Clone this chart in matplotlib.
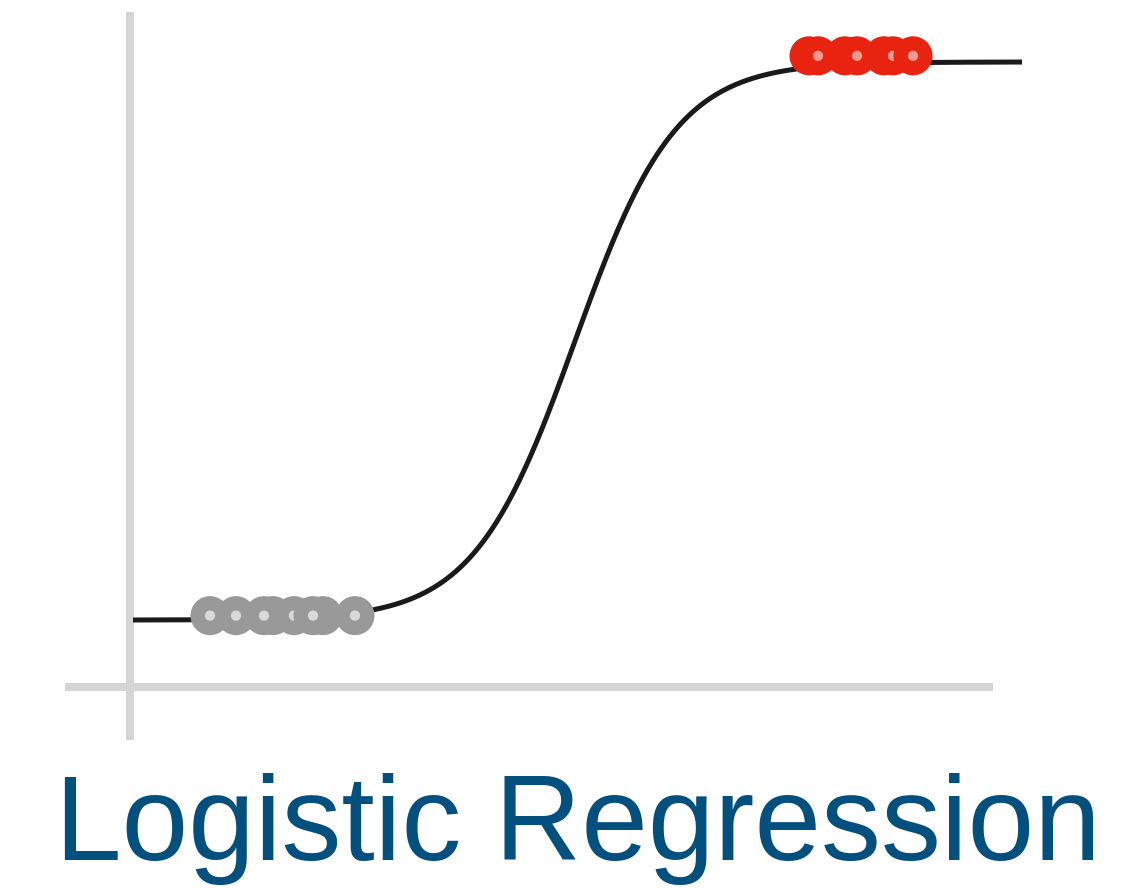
import numpy as np
import matplotlib
matplotlib.use("Agg")
import matplotlib.pyplot as plt

# Observations: feature values for each class (drawn in this order)
x_class0 = [0.80, 1.06, 1.43, 1.34, 1.64, 1.93, 1.83, 2.25]
x_class1 = [6.79, 6.88, 7.15, 7.27, 7.54, 7.63, 7.83]
y_class0 = 0.0
y_class1 = 1.0

# Fitted logistic curve parameters
slope = 1.97
midpoint = 4.45
curve_range = (0.03, 8.92)

title = "Logistic Regression"

W, H, DPI = 1147, 888, 100
fig = plt.figure(figsize=(W / DPI, H / DPI), dpi=DPI)
ax = fig.add_axes([0, 0, 1, 1])
ax.set_xlim(-1.30, 10.17)
ax.set_ylim(-0.480, 1.111)
ax.axis("off")

axis_color = "#d5d5d5"
# Axis guide lines
ax.plot([0, 0], [-0.215, 1.090], color=axis_color, lw=5.8,
        solid_capstyle="butt", zorder=1)
ax.plot([-0.65, 8.63], [-0.120, -0.120], color=axis_color, lw=5.8,
        solid_capstyle="butt", zorder=1)

# Sigmoid curve
xs = np.linspace(curve_range[0], curve_range[1], 600)
ys = 1.0 / (1.0 + np.exp(-slope * (xs - midpoint)))
ax.plot(xs, ys, color="#1a1a1a", lw=3.6, solid_capstyle="butt", zorder=2)

def draw_points(xv, yv, outer, inner, z0, lift):
    z = z0
    for x in xv:
        ax.scatter([x], [yv + lift], s=790, color=outer, edgecolors="none", zorder=z)
        ax.scatter([x], [yv + lift], s=55, color=inner, edgecolors="none", zorder=z + 0.5)
        z += 1

draw_points(x_class0, y_class0, "#999999", "#d9d9d9", 3, 0.008)
draw_points(x_class1, y_class1, "#e8230f", "#f59890", 20, 0.011)

fig.text(577.5 / W, 1 - 860 / H, title, ha="center", va="baseline",
         fontsize=86.2, color="#03507e", family="Liberation Sans")

fig.savefig("out.png", dpi=DPI, facecolor="white")
